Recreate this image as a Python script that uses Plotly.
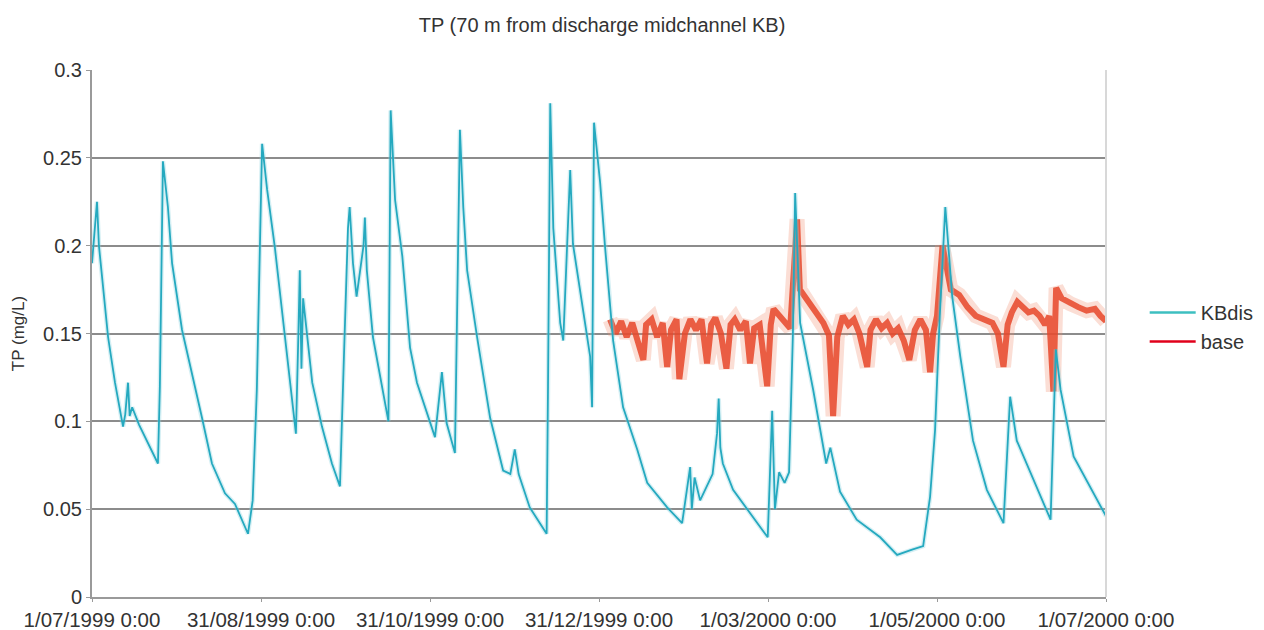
import pandas as pd
import plotly.graph_objects as go

# days after 1/07/1999 0:00, TP in mg/L
kb_day = [0, 1.8, 2.5, 5.8, 8.3, 11.2, 12.0, 13.0, 13.6, 14.5, 17, 20, 23.8, 24.5, 25.6,
          27.4, 28.9, 32.5, 36, 39.7, 43.3, 48, 51.6, 56.3, 58, 59.5, 61.4, 63.2, 66, 69.7,
          73, 73.6, 74.5, 75.0, 75.6, 76.2, 79.5, 83, 86.6, 89.5, 91, 92.4, 93, 94.2, 95.5,
          98.0, 98.5, 99.2, 101.4, 107, 107.8, 109.4, 112, 114.8, 117.3, 123.8, 126.3, 128,
          131, 132.8, 134, 135.4, 139, 143.7, 148.4, 151, 152.6, 154, 158, 164.1, 164.6,
          165.4, 166.5, 168, 169, 170.1, 171.5, 172.6, 173.6, 176.2, 179.8, 180.5,
          181.2, 183.4, 185.2, 188.1, 191.7, 196.8, 200.4, 207.6, 213, 215.9, 216.5,
          217.5, 219.5, 224, 225.6, 226.2, 226.8, 227.7, 231.4, 243.9, 245.5, 246.5,
          248, 250, 251.6, 253.0, 253.8, 255.6, 260.3, 265, 266.5, 270, 276, 284.5, 290.6,
          296, 300, 302.5, 304.3, 306, 308, 310.5, 313.4, 318, 323, 329, 331.4, 333.8, 346,
          347.9, 349.6, 354.3, 366]
kb_tp = [0.19, 0.225, 0.2, 0.148, 0.122, 0.097, 0.104, 0.122, 0.103, 0.108, 0.098, 0.088,
         0.076, 0.12, 0.248, 0.222, 0.19, 0.152, 0.128, 0.102, 0.076, 0.059, 0.053, 0.036,
         0.055, 0.118, 0.258, 0.232, 0.199, 0.148, 0.1, 0.093, 0.15, 0.186, 0.13, 0.17,
         0.122, 0.097, 0.076, 0.063, 0.14, 0.21, 0.222, 0.19, 0.171, 0.2, 0.216, 0.186,
         0.148, 0.1, 0.277, 0.226, 0.194, 0.142, 0.122, 0.091, 0.128, 0.099, 0.082, 0.266,
         0.222, 0.186, 0.148, 0.102, 0.072, 0.07, 0.084, 0.07, 0.051, 0.036, 0.12, 0.281,
         0.21, 0.18, 0.156, 0.146, 0.2, 0.243, 0.201, 0.175, 0.137, 0.108, 0.270, 0.236,
         0.199, 0.146, 0.108, 0.084, 0.065, 0.051, 0.042, 0.074, 0.05, 0.068, 0.055, 0.07,
         0.093, 0.113, 0.085, 0.076, 0.061, 0.034, 0.106, 0.05, 0.071, 0.065, 0.071,
         0.15, 0.230, 0.156, 0.118, 0.076, 0.085, 0.06, 0.044, 0.034, 0.024, 0.027, 0.029,
         0.057, 0.095, 0.16, 0.222, 0.171, 0.137, 0.089, 0.061, 0.042, 0.114, 0.089, 0.044,
         0.141, 0.118, 0.08, 0.046]

base_day = [187, 189, 191, 193, 195, 197, 199, 200, 202, 204, 206, 207.6, 209, 211, 212,
            214, 216, 218, 220, 222, 223.5, 225, 227, 229, 230.5, 232, 234, 236, 237.5,
            239, 241, 243.7, 245, 246, 249, 252, 253.5, 254.5, 255.5, 258, 261, 264, 266,
            267.5, 269, 271, 273, 275, 277, 279.8, 281, 283, 285, 287, 289, 291, 293, 295,
            297, 299, 301, 302.5, 303.6, 305, 307, 308.5, 310, 313, 316, 319, 322, 325,
            327, 329, 330.5, 332, 334, 336, 338, 340, 342, 344, 345.5, 347, 348, 350, 353,
            356, 359, 362, 364, 366]
base_tp = [0.158, 0.150, 0.157, 0.148, 0.156, 0.145, 0.135, 0.155, 0.158, 0.148, 0.156,
           0.131, 0.152, 0.158, 0.124, 0.150, 0.158, 0.152, 0.158, 0.133, 0.155, 0.159,
           0.150, 0.130, 0.155, 0.158, 0.152, 0.157, 0.133, 0.153, 0.155, 0.120, 0.155,
           0.164, 0.158, 0.153, 0.190, 0.215, 0.175, 0.169, 0.162, 0.156, 0.149, 0.103,
           0.148, 0.160, 0.155, 0.158, 0.150, 0.131, 0.152, 0.158, 0.153, 0.156, 0.150,
           0.153, 0.146, 0.135, 0.152, 0.158, 0.152, 0.128, 0.150, 0.160, 0.200, 0.185,
           0.175, 0.172, 0.165, 0.160, 0.158, 0.156, 0.150, 0.131, 0.155, 0.162, 0.168,
           0.165, 0.162, 0.163, 0.160, 0.155, 0.160, 0.117, 0.176, 0.170, 0.167, 0.165,
           0.163, 0.164, 0.160, 0.157]

tick_dates = ["1999-07-01", "1999-08-31", "1999-10-31", "1999-12-31",
              "2000-03-01", "2000-05-01", "2000-07-01"]
tick_text = ["1/07/1999 0:00", "31/08/1999 0:00", "31/10/1999 0:00", "31/12/1999 0:00",
             "1/03/2000 0:00", "1/05/2000 0:00", "1/07/2000 0:00"]

start = pd.Timestamp("1999-07-01")
kb_x = [start + pd.Timedelta(days=d) for d in kb_day]
base_x = [start + pd.Timedelta(days=d) for d in base_day]

fig = go.Figure()
# soft wide copies to mimic the smeared look of the original
fig.add_trace(go.Scatter(x=base_x, y=base_tp, mode='lines', showlegend=False,
                         line=dict(color='#f28a6a', width=15), opacity=0.28, hoverinfo='skip'))
fig.add_trace(go.Scatter(x=base_x, y=base_tp, mode='lines', showlegend=False,
                         line=dict(color='#e8472a', width=6), opacity=0.85))
fig.add_trace(go.Scatter(x=kb_x, y=kb_tp, mode='lines', showlegend=False,
                         line=dict(color='#8ad4e0', width=4.5), opacity=0.35, hoverinfo='skip'))
fig.add_trace(go.Scatter(x=kb_x, y=kb_tp, mode='lines', showlegend=False,
                         line=dict(color='#25a9bf', width=1.8)))
# legend entries
fig.add_trace(go.Scatter(x=[None], y=[None], mode='lines', name='KBdis',
                         line=dict(color='#3dbfc0', width=2.5)))
fig.add_trace(go.Scatter(x=[None], y=[None], mode='lines', name='base',
                         line=dict(color='#e0001b', width=2.5)))

# page body adds 8px, so the figure is 1256x622 and margins are shifted by 8
fig.update_layout(
    width=1256, height=622,
    margin=dict(l=84, r=158, t=62, b=33),
    paper_bgcolor='white', plot_bgcolor='white',
    font=dict(family='Liberation Sans, Arial, sans-serif', color='#333333', size=20),
    title=dict(text='TP (70 m from discharge midchannel KB)', x=0.473, xanchor='center',
               y=0.973, yanchor='middle', font=dict(size=20)),
    legend=dict(xref='container', yref='container', x=0.905, y=0.487,
                xanchor='left', yanchor='middle', font=dict(size=20),
                itemwidth=46, tracegroupgap=0),
)
fig.update_xaxes(range=[tick_dates[0], tick_dates[-1]], tickvals=tick_dates, ticktext=tick_text,
                 showgrid=False, showline=True, linecolor='#9a9a9a', linewidth=2,
                 ticks='outside', ticklen=3, tickcolor='#9a9a9a', automargin=False,
                 tickfont=dict(size=20.5))
fig.update_yaxes(range=[0, 0.3], dtick=0.05, showgrid=True, gridcolor='#8c8c8c', gridwidth=2,
                 showline=True, linecolor='#9a9a9a', linewidth=2, zeroline=False,
                 ticks='outside', ticklen=4, tickcolor='#9a9a9a', automargin=False,
                 title=dict(text='TP (mg/L)', font=dict(size=17), standoff=14),
                 tickfont=dict(size=20))
# faint right border of the plot area
fig.add_shape(type='line', xref='paper', yref='paper', x0=1, x1=1, y0=0, y1=1,
              line=dict(color='#d8d8d8', width=2))

fig.write_html("out.html")
